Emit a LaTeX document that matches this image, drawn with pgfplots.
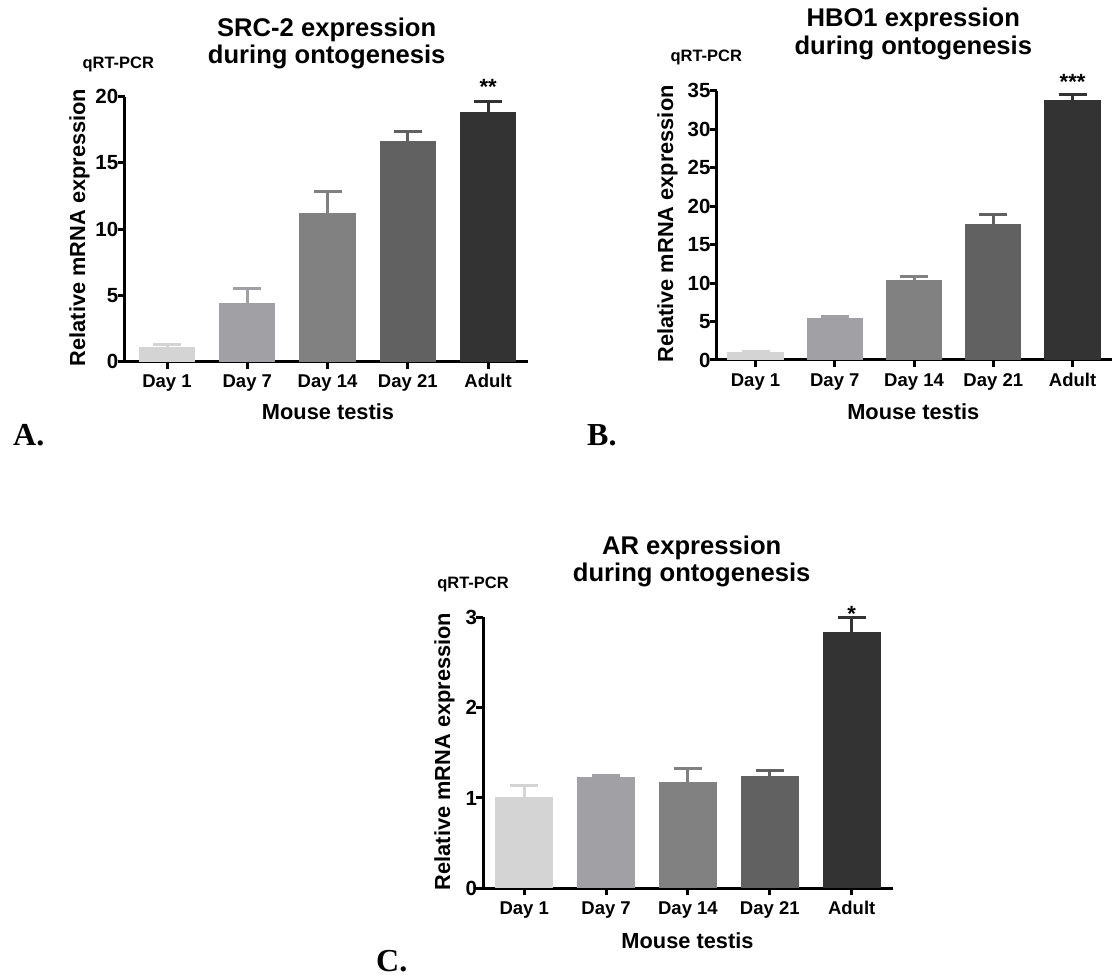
\documentclass[border=0pt]{standalone}
\usepackage{pgfplots}
\pgfplotsset{compat=1.18}
\usepackage{fontspec}
\setmainfont{Liberation Sans}
\newfontfamily\panelfont{Liberation Serif}
\definecolor{c1}{HTML}{D4D4D4}
\definecolor{c2}{HTML}{A1A1A5}
\definecolor{c3}{HTML}{818181}
\definecolor{c4}{HTML}{616161}
\definecolor{c5}{HTML}{333333}
\newcommand\titlef{\fontsize{25.6}{28}\selectfont\bfseries}
\newcommand\labf{\fontsize{21.8}{24}\selectfont\bfseries}
\newcommand\qf{\fontsize{16.5}{18}\selectfont\bfseries}
\newcommand\starf{\fontsize{22}{24}\selectfont\bfseries}
\newcommand\panf{\fontsize{32}{34}\selectfont\panelfont\bfseries}
\pgfplotsset{
  gp/.style={
    scale only axis,
    axis lines=left,
    axis line style={line width=3pt, -},
    tick style={line width=3pt, black},
    tick align=outside,
    major tick length=7pt,
    xtick={0,1,2,3,4},
    xticklabels={Day 1, Day 7, Day 14, Day 21, Adult},
    ymin=0,
    /pgf/number format/assume math mode=true,
    xticklabel style={font=\fontsize{18.5}{20}\selectfont\bfseries, inner sep=0pt, text height=14pt, text depth=0pt, yshift=-5pt},
    yticklabel style={font=\fontsize{20.5}{22}\selectfont\bfseries, inner sep=1pt, xshift=2pt},
    clip=false,
    ybar, bar width=0.7,
  },
  gbar/.style={fill=#1, draw=none, bar shift=0pt,
    error bars/y dir=plus, error bars/y explicit,
    error bars/error mark=|,
    error bars/error bar style={line width=3pt, color=#1},
    error bars/error mark options={mark size=14pt, line width=3pt, color=#1}},
}
\begin{document}
\begin{tikzpicture}[x=1pt,y=1pt]
\path[use as bounding box] (0,0) rectangle (1117,979);
% ---------- A ----------
\begin{axis}[gp, at={(124.5pt,617.3pt)}, anchor=south west, width=403.7pt, height=265pt,
  xmin=-0.53, xmax=4.5, ymax=20, ytick={0,5,10,15,20}]
\addplot[gbar=c1] coordinates {(0,1.09) +- (0,0.22)};
\addplot[gbar=c2] coordinates {(1,4.41) +- (0,1.08)};
\addplot[gbar=c3] coordinates {(2,11.2) +- (0,1.68)};
\addplot[gbar=c4] coordinates {(3,16.66) +- (0,0.75)};
\addplot[gbar=c5] coordinates {(4,18.87) +- (0,0.75)};
\node[anchor=base, font=\starf] at (axis cs:4,20.2) {**};
\end{axis}
% ---------- B ----------
\begin{axis}[gp, at={(716.7pt,619pt)}, anchor=south west, width=395.5pt, height=269.3pt,
  xmin=-0.49, xmax=4.5, ymax=35, ytick={0,5,10,15,20,25,30,35}, bar width=0.71]
\addplot[gbar=c1] coordinates {(0,1.08) +- (0,0.05)};
\addplot[gbar=c2] coordinates {(1,5.5) +- (0,0.13)};
\addplot[gbar=c3] coordinates {(2,10.4) +- (0,0.5)};
\addplot[gbar=c4] coordinates {(3,17.7) +- (0,1.27)};
\addplot[gbar=c5] coordinates {(4,33.8) +- (0,0.68)};
\node[anchor=base, font=\starf] at (axis cs:4,35.1) {***};
\end{axis}
% ---------- C ----------
\begin{axis}[gp, at={(483.3pt,90.7pt)}, anchor=south west, width=409.3pt, height=271pt,
  xmin=-0.5, xmax=4.5, ymax=3, ytick={0,1,2,3}, bar width=0.71]
\addplot[gbar=c1] coordinates {(0,1.014) +- (0,0.122)};
\addplot[gbar=c2] coordinates {(1,1.236) +- (0,0.018)};
\addplot[gbar=c3] coordinates {(2,1.177) +- (0,0.144)};
\addplot[gbar=c4] coordinates {(3,1.243) +- (0,0.056)};
\addplot[gbar=c5] coordinates {(4,2.84) +- (0,0.156)};
\node[anchor=base, font=\starf] at (axis cs:4,2.95) {*};
\end{axis}
% ---------- texts ----------
\node[anchor=base, font=\titlef] at (326.7,942.3) {SRC-2 expression};
\node[anchor=base, font=\titlef] at (326.7,915) {during ontogenesis};
\node[anchor=base, font=\titlef] at (913.3,952) {HBO1 expression};
\node[anchor=base, font=\titlef] at (913.3,924) {during ontogenesis};
\node[anchor=base, font=\titlef] at (691.7,424) {AR expression};
\node[anchor=base, font=\titlef] at (691.7,397.3) {during ontogenesis};
\node[anchor=base, font=\qf] at (118.3,910.7) {qRT-PCR};
\node[anchor=base, font=\qf] at (706.3,917.3) {qRT-PCR};
\node[anchor=base, font=\qf] at (473,390.7) {qRT-PCR};
\node[anchor=base, rotate=90, font=\labf] at (85,751.5) {Relative mRNA expression};
\node[anchor=base, rotate=90, font=\labf] at (673,755) {Relative mRNA expression};
\node[anchor=base, rotate=90, font=\labf] at (450,227.5) {Relative mRNA expression};
\node[anchor=base, font=\labf] at (328,559) {Mouse testis};
\node[anchor=base, font=\labf] at (913.3,559) {Mouse testis};
\node[anchor=base, font=\labf] at (687.5,30.7) {Mouse testis};
\node[anchor=base west, inner sep=0pt, font=\panf] at (13,533) {A.};
\node[anchor=base west, inner sep=0pt, font=\panf] at (587,533) {B.};
\node[anchor=base west, inner sep=0pt, font=\panf] at (376,7) {C.};
\end{tikzpicture}
\end{document}
